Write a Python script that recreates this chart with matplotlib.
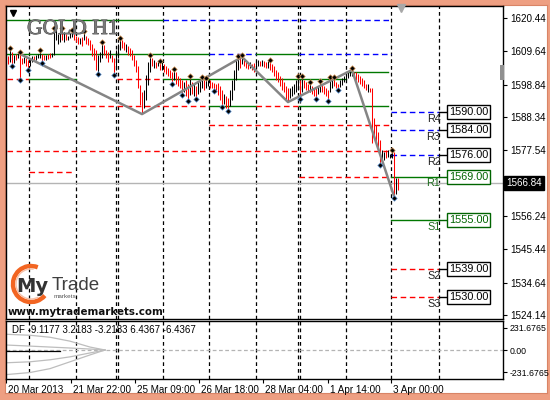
import matplotlib
matplotlib.use('Agg')
import matplotlib.pyplot as plt
from matplotlib.patches import Rectangle, Arc
from matplotlib.transforms import blended_transform_factory
import matplotlib.patheffects as pe
import numpy as np

plt.rcParams['font.family'] = ['Liberation Sans', 'DejaVu Sans']

# ---------------- data ----------------
highs = [1608.1, 1610.1, 1609.4, 1608.5, 1608.8, 1609.4, 1608.8, 1607.5, 1607.8, 1607.5,
         1606.8, 1607.5, 1608.1, 1608.1, 1608.5, 1608.8, 1609.4, 1608.8, 1608.5, 1608.5,
         1608.8, 1609.1, 1609.1, 1616.6, 1616.6, 1615.3, 1615.6, 1616.6, 1615.9, 1615.3,
         1614.6, 1615.6, 1615.9, 1615.3, 1614.6, 1614.3, 1614.0, 1614.3, 1615.6, 1614.6,
         1614.0, 1613.3, 1612.0, 1610.7, 1610.1, 1608.5, 1609.4, 1612.0, 1611.7, 1610.1,
         1609.4, 1610.1, 1608.5, 1607.5, 1610.1, 1612.0, 1613.3, 1613.3, 1612.7, 1612.0,
         1611.4, 1610.7, 1610.1, 1608.5, 1606.8, 1604.9, 1598.7, 1596.5, 1597.1, 1602.0,
         1606.2, 1607.8, 1607.5, 1606.8, 1606.2, 1606.8, 1605.9, 1606.2, 1605.5, 1604.9,
         1604.2, 1603.6, 1602.9, 1603.3, 1602.9, 1601.7, 1601.0, 1600.4, 1599.7, 1600.4,
         1599.1, 1601.0, 1599.7, 1599.1, 1598.4, 1599.7, 1600.4, 1600.7, 1600.4, 1600.4,
         1600.4, 1600.4, 1599.7, 1599.4, 1599.1, 1599.4, 1598.4, 1597.1, 1595.8, 1595.2,
         1594.5, 1597.1, 1600.4, 1603.6, 1606.8, 1607.5, 1607.8, 1607.8, 1607.5, 1606.8,
         1606.2, 1606.2, 1605.5, 1605.9, 1606.2, 1606.8, 1606.5, 1606.8, 1606.5, 1606.2,
         1606.8, 1606.2, 1605.5, 1604.9, 1603.6, 1602.9, 1601.7, 1601.0, 1599.7, 1598.4,
         1597.8, 1597.8, 1598.4, 1599.1, 1600.4, 1601.0, 1600.4, 1601.0, 1600.4, 1599.7,
         1599.1, 1599.1, 1598.4, 1597.8, 1597.8, 1598.4, 1599.4, 1599.1, 1598.4, 1597.8,
         1597.1, 1600.7, 1600.4, 1600.7, 1599.7, 1599.1, 1600.4, 1601.0, 1601.7, 1602.3,
         1602.9, 1603.3, 1603.6, 1602.9, 1602.9, 1602.3, 1601.7, 1601.0, 1600.4, 1599.1,
         1599.1, 1597.8, 1597.8, 1588.0, 1585.8, 1583.5, 1580.9, 1577.7, 1577.0, 1577.7,
         1577.7, 1576.3, 1577.0, 1577.0, 1568.6, 1568.6]
lows = [1605.5, 1606.2, 1605.5, 1605.9, 1606.8, 1607.5, 1601.0, 1605.5, 1605.9, 1604.9,
        1604.2, 1604.9, 1606.2, 1606.8, 1606.8, 1607.5, 1607.5, 1606.5, 1606.8, 1606.8,
        1607.2, 1607.5, 1607.8, 1608.5, 1613.3, 1612.0, 1612.7, 1613.3, 1612.7, 1613.3,
        1613.3, 1614.0, 1614.3, 1613.3, 1612.7, 1612.0, 1612.0, 1611.4, 1613.3, 1612.0,
        1611.7, 1610.1, 1608.1, 1606.8, 1603.6, 1602.9, 1606.2, 1607.5, 1608.5, 1607.5,
        1606.2, 1607.5, 1606.2, 1602.6, 1603.6, 1607.5, 1610.1, 1610.7, 1610.1, 1609.4,
        1608.5, 1608.1, 1606.8, 1604.9, 1602.9, 1597.8, 1592.2, 1589.3, 1591.3, 1593.9,
        1598.7, 1602.9, 1604.9, 1604.2, 1604.2, 1604.9, 1603.6, 1603.6, 1602.9, 1602.3,
        1601.7, 1601.0, 1599.7, 1600.4, 1599.1, 1598.4, 1597.8, 1596.1, 1596.5, 1595.2,
        1594.2, 1595.5, 1595.8, 1595.2, 1594.8, 1595.8, 1596.5, 1597.8, 1597.1, 1597.8,
        1598.4, 1597.8, 1597.8, 1597.4, 1596.5, 1595.5, 1593.9, 1592.2, 1592.6, 1591.3,
        1590.9, 1591.9, 1593.9, 1597.1, 1600.4, 1603.6, 1604.2, 1605.5, 1604.9, 1604.2,
        1603.9, 1604.2, 1603.6, 1602.9, 1604.2, 1604.9, 1604.9, 1604.9, 1604.6, 1604.2,
        1604.2, 1603.6, 1602.9, 1601.7, 1600.4, 1599.7, 1598.4, 1597.1, 1596.5, 1593.9,
        1593.2, 1594.5, 1595.2, 1595.8, 1596.5, 1597.1, 1594.8, 1596.5, 1597.8, 1597.1,
        1596.5, 1596.5, 1595.8, 1595.2, 1594.8, 1595.8, 1596.5, 1596.5, 1595.8, 1595.2,
        1594.2, 1596.5, 1597.8, 1598.4, 1597.8, 1597.8, 1598.1, 1598.7, 1599.7, 1600.4,
        1601.0, 1601.7, 1601.7, 1601.0, 1600.4, 1599.7, 1599.1, 1598.4, 1597.8, 1597.1,
        1596.5, 1596.5, 1579.9, 1582.5, 1580.2, 1577.7, 1573.4, 1573.8, 1574.4, 1575.1,
        1575.4, 1575.1, 1575.1, 1562.7, 1563.4, 1564.7]
bar_dirs = ("rkrkrkrrkrr" "kkrkkkrrkrrk" "kkkkrkrkkk" "rrrkrkrrrrrr" "kkkrrrkrrk"
            "kkrrkrrrrrrrr" "kkkkrkrkrk" "rrrrrkrrrr" "krrkrkrkkkrkk" "rrrrrrrkrr"
            "kkkkkrk" "rrrkrrk" "krkrrkr" "rrrrrrrrr" "kkkkkrk" "rrrkrrrkkrrrr"
            "kkrrrkkkkkkk" "rrrrrrrkr" "rrrrr" "kkrkkkrkr")

fractal_up = [1, 6, 16, 23, 27, 32, 38, 47, 56, 71, 76, 83, 91, 97, 99, 115, 117, 131,
              145, 147, 151, 156, 161, 163, 172, 192]
fractal_dn = [2, 6, 10, 17, 45, 53, 82, 87, 90, 94, 103, 107, 110, 146, 154, 160, 165,
              186, 193]

zigzag_idx = [6, 67, 117, 140, 172, 193]
zigzag_val = [1608.8, 1589.3, 1607.8, 1593.2, 1603.6, 1562.7]

day_separators = [10.5, 34, 54, 54.8, 77.5, 100.5, 124, 145, 145.8, 169, 191.5, 215.5]

# historical pivot segments: price, start bar, end bar, kind
lvl_price = [1619.8, 1619.8, 1608.8, 1608.8, 1608.8, 1608.8, 1600.7, 1600.7, 1600.7,
             1600.7, 1602.9, 1591.9, 1591.9, 1591.9, 1591.9, 1585.8, 1577.3, 1570.5, 1568.9]
lvl_start = [-0.5, 77.5, -0.5, 100.5, 124, 145.5, -0.5, 10.5, 54.5,
             77.5, 169, -0.5, 100.5, 124, 145.5, 100.5, -0.5, 10.5, 145.5]
lvl_end = [77.5, 191.5, 100.5, 124, 145, 191.5, 10.5, 34, 77.5,
           169, 190, 100.5, 124, 145, 190, 191.5, 191.5, 33, 191.5]
lvl_kind = ['g', 'b', 'g', 'b', 'g', 'b', 'r', 'g', 'r',
            'g', 'g', 'r', 'g', 'r', 'g', 'r', 'r', 'r', 'r']

pivot_names = ['R4', 'R3', 'R2', 'R1', 'S1', 'S2', 'S3']
pivot_vals = [1590.00, 1584.00, 1576.00, 1569.00, 1555.00, 1539.00, 1530.00]
pivot_kind = ['b', 'b', 'b', 'g', 'g', 'r', 'r']

current_price = 1566.84
price_ticks = [1620.44, 1609.64, 1598.84, 1588.34, 1577.54, 1556.24, 1545.44, 1534.64, 1524.14]

date_pos = [-1, 31.5, 63.5, 95.5, 127.5, 160, 191.5]
date_labels = ['20 Mar 2013', '21 Mar 22:00', '25 Mar 09:00', '26 Mar 18:00',
               '28 Mar 04:00', '1 Apr 14:00', '3 Apr 00:00']

df_x = [-0.5, 11, 21, 31, 41, 48.5]
df_up2 = [165, 155, 134, 93, 31, 0]
df_up1 = [52, 41, 31, 21, 10, 0]
df_dn1 = [-134, -124, -103, -72, -31, 0]
df_dn2 = [-258, -237, -196, -124, -52, 0]
df_main_x = [-0.5, 26]
df_main = [-12, -12]
df_ticks = [231.6765, 0.0, -231.6765]
df_ticklabels = ['231.6765', '0.00', '-231.6765']
df_text = 'DF -9.1177 3.2183 -3.2183 6.4367 -6.4367'

# ---------------- figure ----------------
W, H = 550, 400
fig = plt.figure(figsize=(5.5, 4.0), dpi=100)
fig.patch.set_facecolor('#ee9f82')

bg = fig.add_axes([5 / W, 7 / H, 542 / W, 388 / H], zorder=-10)
bg.set_xticks([])
bg.set_yticks([])
bg.set_facecolor('white')
for s in bg.spines.values():
    s.set_color('#d98466')
    s.set_linewidth(0.8)


def fx(px):
    return px / W


def fy(py):
    return 1 - py / H


ax = fig.add_axes([fx(6), fy(319), fx(503) - fx(6), fy(6) - fy(319)], zorder=1)
ax2 = fig.add_axes([fx(6), fy(379), fx(503) - fx(6), fy(321) - fy(379)], zorder=1)

colors = {'g': '#007800', 'b': '#0000ff', 'r': '#ff0000'}
dash = (0, (4, 2.6))

XL = (-1, 247.5)
for a in (ax, ax2):
    a.set_xlim(*XL)
    for s in a.spines.values():
        s.set_linewidth(1.0)
        s.set_color('black')
    for v in day_separators:
        a.axvline(v, color='black', lw=0.9, ls=(0, (3, 2.4)), zorder=1)

ax.set_ylim(1522.85, 1624.35)

# pivot segments
for p, s, e, k in zip(lvl_price, lvl_start, lvl_end, lvl_kind):
    ax.plot([s, e], [p, p], color=colors[k], lw=1.0,
            ls='-' if k == 'g' else dash, zorder=2)

# current price line
ax.axhline(current_price, color='#b4b4b4', lw=1.0, zorder=1.5)

# bars
x = np.arange(len(highs))
bar_cols = ['#ff0000' if d == 'r' else 'black' for d in bar_dirs]
ax.vlines(x, lows, highs, colors=bar_cols, lw=0.75, zorder=3)

# zigzag
ax.plot(zigzag_idx, zigzag_val, color='#858585', lw=1.8, zorder=4, solid_capstyle='round')

# fractals
hi = np.array(highs)
lo = np.array(lows)
ax.plot(fractal_up, hi[fractal_up] + 0.7, 'D', ms=2.8, color='black', mec='#e0a060',
        mew=0.5, zorder=5)
ax.plot(fractal_dn, lo[fractal_dn] - 0.7, 'D', ms=2.8, color='black', mec='#6aa0e0',
        mew=0.5, zorder=5)

# projected pivots
for name, v, k in zip(pivot_names, pivot_vals, pivot_kind):
    c = colors[k]
    ax.plot([191.5, 215.5], [v, v], color=c, lw=1.0, ls='-' if k == 'g' else dash, zorder=2)
    box_c = '#006400' if k == 'g' else 'black'
    ax.plot([215.5, 220.3], [v, v], color=box_c, lw=1.0, zorder=2)
    ax.text(220.5, v, f'{v:.2f}', ha='left', va='center', fontsize=7.8, color=box_c,
            bbox=dict(boxstyle='square,pad=0.18', fc='white', ec=box_c, lw=1.0), zorder=6)
    ax.text(216.2, v - 0.55, name, ha='right', va='top', fontsize=7.8,
            color='#1d6b1d' if k == 'g' else '#222222', zorder=6)

# right axis
ax.yaxis.tick_right()
ax.set_yticks(price_ticks)
ax.set_yticklabels([f'{t:.2f}' for t in price_ticks])
ax.tick_params(axis='y', direction='out', length=3, pad=2, labelsize=7.1, width=0.8)
ax.set_xticks([])
bt = blended_transform_factory(ax.transAxes, ax.transData)
ax.text(1.006, current_price, f'{current_price:.2f}', transform=bt, ha='left', va='center',
        fontsize=7.1, color='white', clip_on=False,
        bbox=dict(boxstyle='square,pad=0.2', fc='black', ec='black'), zorder=7)

# lower panel
ax2.set_ylim(-305, 305)
ax2.axhline(0, color='#b4b4b4', lw=0.9, ls=(0, (3, 2)), zorder=2)
for c in (df_up2, df_up1, df_dn1, df_dn2):
    ax2.plot(df_x, c, color='#bdbdbd', lw=0.9, zorder=2)
ax2.plot(df_main_x, df_main, color='black', lw=0.9, zorder=3)
ax2.yaxis.tick_right()
ax2.set_yticks(df_ticks)
ax2.set_yticklabels(df_ticklabels)
ax2.tick_params(axis='y', direction='out', length=3, pad=1.5, labelsize=6.3, width=0.8)
ax2.set_xticks(date_pos)
ax2.set_xticklabels([])
ax2.tick_params(axis='x', direction='out', length=3, width=0.8)
bt2 = blended_transform_factory(ax2.transData, ax2.transAxes)
for p, lab in zip(date_pos, date_labels):
    ax2.text(p + 0.8, -0.1, lab, transform=bt2, ha='left', va='top', fontsize=7.1,
             clip_on=False)
ax2.text(0.012, 0.93, df_text, transform=ax2.transAxes, ha='left', va='top', fontsize=7.0)

# ---------------- decorations (pixel overlay) ----------------
ov = fig.add_axes([0, 0, 1, 1], facecolor='none', zorder=5)
ov.set_xlim(0, W)
ov.set_ylim(H, 0)
ov.axis('off')

ov.text(27, 34, 'GOLD H1', family='Liberation Serif', fontsize=15.5, color='#7a7a7a',
        va='baseline', ha='left',
        path_effects=[pe.withStroke(linewidth=0.6, foreground='#404040')])
ov.plot([13], [13], marker='v', ms=4.5, color='black', ls='none')
ov.plot([401], [8], marker='v', ms=6, color='#a8a8a8', ls='none')
ov.add_patch(Rectangle((500, 65), 4, 15, fc='#909090', ec='none'))

# logo
ov.add_patch(Arc((31, 284), 36, 36, theta1=40, theta2=292, color='#f26522', lw=3.2))
ov.add_patch(Arc((31, 284), 30, 30, theta1=60, theta2=280, color='#f6c0a8', lw=1.0))
ov.text(16, 292, 'My', family='DejaVu Sans', weight='bold', fontsize=14,
        color='#333333', va='baseline')
ov.text(52, 290, 'Trade', family='Liberation Sans', fontsize=13.5, color='#3f3f3f',
        va='baseline')
ov.text(54, 298.5, 'markets', family='Liberation Sans', fontsize=4.6, color='#555555',
        va='baseline')
ov.text(8, 315, 'www.mytrademarkets.com', family='DejaVu Sans', weight='bold',
        fontsize=7.4, color='#111111', va='baseline')

fig.savefig('out.png', dpi=100, facecolor=fig.get_facecolor())
